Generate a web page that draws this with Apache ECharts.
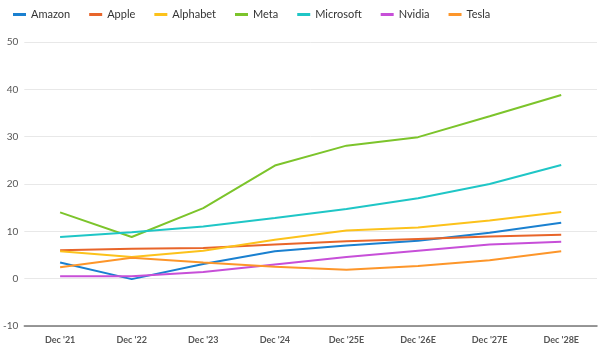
<!DOCTYPE html>
<html lang="en">
<head>
    <meta charset="UTF-8">
    <title>EPS</title>
    <script src="https://cdn.jsdelivr.net/npm/echarts@6/dist/echarts.min.js"></script>
</head>
<body style="margin:0;background:#fff;">
<div id="myChart" style="width: 602px;height: 353px;"></div>
<script>
    var years = ["Dec '21", "Dec '22", "Dec '23", "Dec '24", "Dec '25E", "Dec '26E", "Dec '27E", "Dec '28E"];
    var amazon = [3.4, -0.1, 3.1, 5.8, 7.0, 8.0, 9.7, 11.8];
    var apple = [6.0, 6.3, 6.5, 7.2, 7.9, 8.4, 8.9, 9.3];
    var alphabet = [5.8, 4.6, 5.9, 8.2, 10.2, 10.8, 12.3, 14.1];
    var meta = [14.0, 8.8, 14.9, 23.9, 28.1, 29.9, 34.3, 38.8];
    var microsoft = [8.8, 9.8, 11.0, 12.8, 14.7, 17.0, 20.0, 24.0];
    var nvidia = [0.5, 0.5, 1.4, 3.0, 4.6, 5.9, 7.2, 7.8];
    var tesla = [2.4, 4.4, 3.4, 2.5, 1.9, 2.7, 3.9, 5.8];

    var names = ['Amazon', 'Apple', 'Alphabet', 'Meta', 'Microsoft', 'Nvidia', 'Tesla'];
    var colors = ['#1a80d0', '#e8652a', '#fcc21b', '#7cc42b', '#1fc6c6', '#c74fd8', '#fd962a'];
    var values = [amazon, apple, alphabet, meta, microsoft, nvidia, tesla];

    var seriesData = [];
    for (var i = 0; i < names.length; i++) {
        seriesData.push({
            name: names[i],
            type: 'line',
            data: values[i],
            symbol: 'none',
            lineStyle: {width: 2, color: colors[i]},
            itemStyle: {color: colors[i]}
        });
    }

    var myChart = echarts.init(document.getElementById('myChart'));
    var option = {
        animation: false,
        color: colors,
        textStyle: {fontFamily: 'Lato, sans-serif'},
        legend: {
            left: 8,
            top: 4,
            icon: 'rect',
            itemWidth: 13,
            itemHeight: 3,
            itemGap: 19,
            textStyle: {fontSize: 11, color: '#333'},
            data: names
        },
        grid: {left: 22, right: 5, top: 42, bottom: 27},
        xAxis: {
            type: 'category',
            boundaryGap: true,
            data: years,
            axisLine: {onZero: false, lineStyle: {color: '#777', width: 1.5}},
            axisTick: {show: false},
            axisLabel: {fontSize: 9, color: '#555', fontWeight: 'bold', margin: 10}
        },
        yAxis: {
            type: 'value',
            min: -10,
            max: 50,
            interval: 10,
            axisLine: {show: false},
            axisTick: {show: false},
            axisLabel: {fontSize: 10, color: '#555', margin: 6},
            splitLine: {lineStyle: {color: '#e8e8e8', width: 1}}
        },
        series: seriesData
    };
    myChart.setOption(option);
</script>
</body>
</html>
